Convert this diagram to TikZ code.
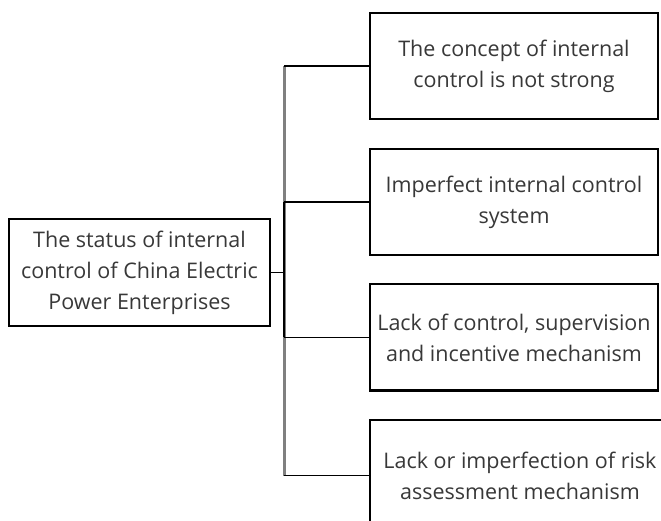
\documentclass[tikz,border=0pt]{standalone}
\usepackage{fontspec}
\setmainfont{Open Sans}
\usetikzlibrary{positioning}

\tikzset{
	item/.style={draw=black, line width=2.2pt, text=black!78, align=center,
		font=\fontsize{21.5}{31}\selectfont, inner sep=0pt,
		minimum width=288pt, minimum height=106pt},
	link/.style={black, line width=1.6pt},
	spine/.style={black!50, line width=2.8pt}
}

\begin{document}
\begin{tikzpicture}[x=1pt, y=-1pt]
	\useasboundingbox (0,0) rectangle (661,521);
	\clip (0,0) rectangle (661,521);

	% Root box
	\node[item, minimum width=261pt, minimum height=107pt] (status) at (139.5,272.5)
		{The status of internal\\control of China Electric\\Power Enterprises};

	% Branch boxes
	\node[item] (concept) at (514,66) {The concept of internal\\control is not strong};
	\node[item, below=28pt of concept] (system) {Imperfect internal control\\system};
	\node[item, below=27pt of system] (supervision) {Lack of control, supervision\\and incentive mechanism};
	\node[item, minimum width=300pt, minimum height=112pt,
		below=27pt of supervision.south west, anchor=north west] (risk)
		{Lack or imperfection of risk\\assessment mechanism};

	% Spine
	\path (status.east) -- ++(13,0) coordinate (fork);
	\draw[spine] (concept.west -| fork) -- (risk.west -| fork);
	\draw[link] (system.west -| fork) -- (supervision.west -| fork);

	% Branches
	\draw[link] (status.east) -- (fork);
	\foreach \n in {concept,system,supervision,risk}
		\draw[link] (\n.west -| fork) -- (\n.west);
\end{tikzpicture}
\end{document}
